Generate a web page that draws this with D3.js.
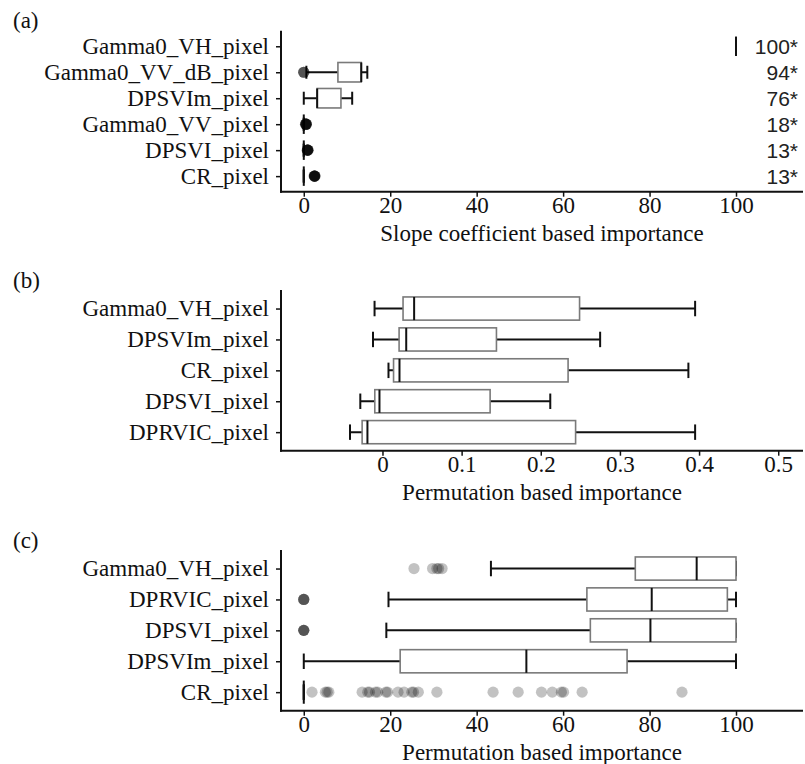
<!DOCTYPE html>
<html><head><meta charset="utf-8">
<script src="https://cdn.jsdelivr.net/npm/d3@7"></script>
<style>body{margin:0;background:#fff}</style>
</head><body>
<svg id="chart" width="805" height="764"></svg>
<script>
// ---------- Panel (a) ----------
const catsA = ["Gamma0_VH_pixel","Gamma0_VV_dB_pixel","DPSVIm_pixel","Gamma0_VV_pixel","DPSVI_pixel","CR_pixel"];
const loA  = [100, 0.6, 0.0, 0, 0, 0];
const q1A  = [100, 7.9, 3.1, 0, 0, 0];
const medA = [100, 13.3, 3.1, 0, 0, 0];
const q3A  = [100, 13.3, 8.6, 0, 0, 0];
const hiA  = [100, 14.7, 11.2, 0, 0, 0];
const outA = [[], [0,0,0,0], [], [0.4,0.5,0.5,0.6,0.6,0.5,0.4,0.6,0.5,0.5], [0.8,0.9,0.9,1.0,0.9,0.8,1.0,0.9,0.9,0.9], [2.4,2.5,2.5,2.6,2.5,2.4,2.6,2.5,2.5,2.5]];
const labelsA = ["100*","94*","76*","18*","13*","13*"];
const ticksA = [0,20,40,60,80,100];

// ---------- Panel (b) ----------
const catsB = ["Gamma0_VH_pixel","DPSVIm_pixel","CR_pixel","DPSVI_pixel","DPRVIC_pixel"];
const loB  = [-0.010, -0.012, 0.0076, -0.028, -0.041];
const q1B  = [0.026, 0.021, 0.014, -0.0097, -0.0257];
const medB = [0.040, 0.030, 0.0215, -0.0038, -0.019];
const q3B  = [0.249, 0.144, 0.2345, 0.136, 0.244];
const hiB  = [0.395, 0.275, 0.3865, 0.212, 0.395];
const outB = [[],[],[],[],[]];
const ticksB = [0,0.1,0.2,0.3,0.4,0.5];

// ---------- Panel (c) ----------
const catsC = ["Gamma0_VH_pixel","DPRVIC_pixel","DPSVI_pixel","DPSVIm_pixel","CR_pixel"];
const loC  = [43.3, 19.6, 19.1, 0, 0];
const q1C  = [76.7, 65.5, 66.3, 22.3, 0];
const medC = [90.9, 80.5, 80.2, 51.5, 0];
const q3C  = [100, 98.0, 100, 74.8, 0];
const hiC  = [100, 100, 100, 100, 0];
const outC = [[25.5,29.8,30.8,31.2,32.0],[0,0,0,0],[0,0,0,0],[],
  [1.9,5.0,5.4,5.8,13.5,14.8,15.2,16.6,17.1,19.0,19.4,21.8,23.2,25.0,25.4,26.5,30.8,43.8,49.6,55.0,57.5,59.6,60.1,64.4,87.5]];
const ticksC = [0,20,40,60,80,100];

const titles = ["Slope coefficient based importance","Permutation based importance","Permutation based importance"];
const panelTags = ["(a)","(b)","(c)"];

const svg = d3.select("#chart");
const serif = "'Liberation Serif','Times New Roman',serif";
const sans = "'Liberation Sans',Arial,sans-serif";
const L = 281, R = 803;
const FS = 23;

const panels = [
  {cats:catsA, lo:loA, q1:q1A, med:medA, q3:q3A, hi:hiA, out:outA, ticks:ticksA, domain:[-5.27,115.5], top:30.7, bot:191.7, tagY:28, fmt:d3.format("d"), labels:labelsA},
  {cats:catsB, lo:loB, q1:q1B, med:medB, q3:q3B, hi:hiB, out:outB, ticks:ticksB, domain:[-0.1282,0.5313], top:290, bot:450.7, tagY:288, fmt:d=> d===0?"0":d3.format(".1f")(d)},
  {cats:catsC, lo:loC, q1:q1C, med:medC, q3:q3C, hi:hiC, out:outC, ticks:ticksC, domain:[-5.27,115.5], top:550, bot:710.7, tagY:548, fmt:d3.format("d")}
];

panels.forEach((p, pi) => {
  const g = svg.append("g");
  const x = d3.scaleLinear().domain(p.domain).range([L, R]);
  const y = d3.scalePoint().domain(p.cats).range([p.top, p.bot]).padding(0.6);
  const step = y.step();
  const bh = step * 0.75, ch = step * 0.5;

  g.append("text").attr("x", 13).attr("y", p.tagY).text(panelTags[pi])
    .attr("font-family", serif).attr("font-size", FS).attr("fill", "#111");

  // whiskers (errorbar)
  p.cats.forEach((c, i) => {
    const yc = y(c);
    g.append("line").attr("x1", x(p.lo[i])).attr("x2", x(p.hi[i])).attr("y1", yc).attr("y2", yc)
      .attr("stroke", "#111").attr("stroke-width", 2);
    [p.lo[i], p.hi[i]].forEach(v => {
      g.append("line").attr("x1", x(v)).attr("x2", x(v)).attr("y1", yc - ch/2).attr("y2", yc + ch/2)
        .attr("stroke", "#111").attr("stroke-width", 2);
    });
  });
  // boxes
  p.cats.forEach((c, i) => {
    const yc = y(c);
    const w = x(p.q3[i]) - x(p.q1[i]);
    if (w > 0.5) {
      g.append("rect").attr("x", x(p.q1[i])).attr("y", yc - bh/2).attr("width", w).attr("height", bh)
        .attr("fill", "#fff").attr("stroke", "#7a7a7a").attr("stroke-width", 1.6);
    }
    g.append("line").attr("x1", x(p.med[i])).attr("x2", x(p.med[i])).attr("y1", yc - bh/2).attr("y2", yc + bh/2)
      .attr("stroke", "#111").attr("stroke-width", 2);
    p.out[i].forEach(v => {
      g.append("circle").attr("cx", x(v)).attr("cy", yc).attr("r", 5.6)
        .attr("fill", "#000").attr("fill-opacity", 0.24);
    });
  });

  if (p.labels) {
    p.cats.forEach((c, i) => {
      g.append("text").attr("x", 798).attr("y", y(c)).attr("dy", "0.36em").attr("text-anchor", "end")
        .text(p.labels[i]).attr("font-family", sans).attr("font-size", 21).attr("fill", "#222");
    });
  }

  const xAxis = d3.axisBottom(x).tickValues(p.ticks).tickFormat(p.fmt).tickSize(5).tickSizeOuter(0);
  const gx = g.append("g").attr("transform", `translate(0,${p.bot})`).call(xAxis);
  const yAxis = d3.axisLeft(y).tickSize(5).tickPadding(6).tickSizeOuter(0);
  const gy = g.append("g").attr("transform", `translate(${L},0)`).call(yAxis);
  [gx, gy].forEach(a => {
    a.select(".domain").remove();
    a.selectAll(".tick line").attr("stroke", "#111").attr("stroke-width", 1.5);
    a.selectAll(".tick text").attr("font-family", serif).attr("font-size", FS).attr("fill", "#111");
  });
  gx.selectAll(".tick text").attr("y", 21.5).attr("dy", 0);
  gy.selectAll(".tick text").attr("x", -12);
  g.append("line").attr("x1", L).attr("x2", L).attr("y1", p.top).attr("y2", p.bot + 1)
    .attr("stroke", "#111").attr("stroke-width", 2);
  g.append("line").attr("x1", L - 1).attr("x2", R).attr("y1", p.bot).attr("y2", p.bot)
    .attr("stroke", "#111").attr("stroke-width", 2);

  g.append("text").attr("x", (L + R) / 2).attr("y", p.bot + 49).attr("text-anchor", "middle")
    .text(titles[pi]).attr("font-family", serif).attr("font-size", FS).attr("fill", "#111");
});
</script>
</body></html>
